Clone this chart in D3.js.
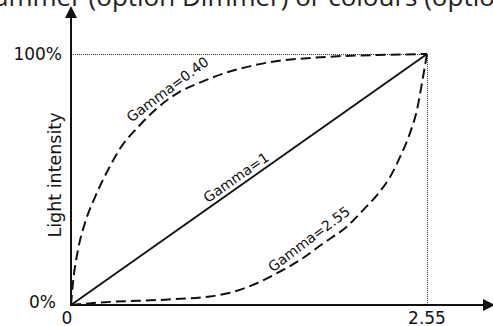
<!DOCTYPE html>
<html>
<head>
<meta charset="utf-8">
<script src="https://cdn.jsdelivr.net/npm/d3@7"></script>
<style>
  body { margin: 0; background: #fff; }
  svg { display: block; }
  text { font-family: "DejaVu Sans", Verdana, sans-serif; fill: #111; }
  .curve { fill: none; stroke: #111; stroke-width: 2; }
  .guide { fill: none; stroke: #333; stroke-width: 1; stroke-dasharray: 1 1; }
  .axis { stroke: #111; stroke-width: 2; }
</style>
</head>
<body>
<svg width="493" height="326"></svg>
<script>
var width = 493, height = 326;

// DMX value 0 .. 2.55 (x 100) against light intensity in %.
var xTicks = [0, 2.55];
var yTicks = [0, 100];
var yTickLabels = ["0%", "100%"];

var gammaLinear = [[0, 0], [2.55, 100]];
var gammaLow = [
  [0, 0], [0.014, 8.8], [0.05, 21.9], [0.1, 32.7], [0.172, 43.0],
  [0.265, 53.8], [0.358, 62.9], [0.48, 70.9], [0.602, 77.7],
  [0.766, 84.5], [0.931, 88.8], [1.125, 92.8], [1.318, 95.6],
  [1.533, 97.6], [1.712, 98.4], [1.948, 99.2], [2.192, 99.6], [2.55, 100]
];
var gammaHigh = [
  [0, 0], [0.215, 1.0], [0.695, 2.2], [0.996, 3.4], [1.139, 4.9],
  [1.304, 8.0], [1.476, 12.7], [1.64, 17.9], [1.805, 24.5],
  [1.977, 31.3], [2.092, 37.8], [2.192, 43.8], [2.285, 51.0],
  [2.357, 59.0], [2.428, 68.5], [2.478, 77.7], [2.514, 88.4],
  [2.536, 95.5], [2.55, 100]
];

var curveLabels = [
  { text: "Gamma=0.40", x: 0.692, y: 85.9, angle: -37 },
  { text: "Gamma=1", x: 1.182, y: 50.8, angle: -35 },
  { text: "Gamma=2.55", x: 1.705, y: 26.3, angle: -37 }
];

var x = d3.scaleLinear().domain([0, 2.55]).range([71, 427]);
var y = d3.scaleLinear().domain([0, 100]).range([305, 54]);

var svg = d3.select("svg");

// Title, cut off by the top edge of the picture.
svg.append("text")
  .attr("x", -6)
  .attr("y", 6)
  .style("font-family", "'Open Sans', sans-serif")
  .style("font-size", "26px")
  .style("fill", "#222")
  .text("ammer (option Dimmer) or colours (option");

// Dotted guides at 100% and at 2.55.
svg.append("path")
  .attr("class", "guide")
  .attr("d", "M" + x(0) + "," + (y(100) + 0.5) + "H" + x(2.55));
svg.append("path")
  .attr("class", "guide")
  .attr("d", "M" + (x(2.55) + 0.5) + "," + y(100) + "V" + y(0));

var line = d3.line()
  .x(function(d) { return x(d[0]); })
  .y(function(d) { return y(d[1]); })
  .curve(d3.curveMonotoneX);

svg.append("path")
  .attr("class", "curve")
  .attr("d", line(gammaLinear))
  .style("stroke-width", 1.9);

svg.append("path")
  .attr("class", "curve")
  .attr("d", line(gammaLow))
  .attr("stroke-dasharray", "10 5");

svg.append("path")
  .attr("class", "curve")
  .attr("d", line(gammaHigh))
  .attr("stroke-dasharray", "10 5");

// Axes with arrow heads.
svg.append("line")
  .attr("class", "axis")
  .attr("x1", x(0)).attr("y1", y(0) + 1)
  .attr("x2", x(0)).attr("y2", 16);
svg.append("path")
  .attr("d", "M" + x(0) + ",6L" + (x(0) - 6) + ",18L" + (x(0) + 6) + ",18Z")
  .style("fill", "#111");

svg.append("line")
  .attr("class", "axis")
  .attr("x1", x(0) - 1).attr("y1", y(0))
  .attr("x2", 485).attr("y2", y(0));
svg.append("path")
  .attr("d", "M495," + y(0) + "L483," + (y(0) - 6) + "L483," + (y(0) + 6) + "Z")
  .style("fill", "#111");

// Tick labels.
svg.selectAll(".xlabel")
  .data(xTicks)
  .enter().append("text")
    .attr("class", "xlabel")
    .attr("x", function(d) { return x(d) - (d === 0 ? 4 : 0); })
    .attr("y", 324)
    .attr("text-anchor", "middle")
    .style("font-size", "17px")
    .text(function(d) { return d === 0 ? "0" : d.toFixed(2); });

svg.selectAll(".ylabel")
  .data(yTicks)
  .enter().append("text")
    .attr("class", "ylabel")
    .attr("x", function(d) { return d === 0 ? 56 : 62; })
    .attr("y", function(d) { return y(d) + (d === 0 ? 3 : 6); })
    .attr("text-anchor", "end")
    .style("font-size", "17px")
    .text(function(d, i) { return yTickLabels[i]; });

svg.append("text")
  .attr("transform", "translate(61,175) rotate(-90)")
  .attr("text-anchor", "middle")
  .style("font-size", "17.5px")
  .text("Light intensity");

svg.selectAll(".gamma")
  .data(curveLabels)
  .enter().append("text")
    .attr("class", "gamma")
    .attr("transform", function(d) {
      return "translate(" + x(d.x) + "," + y(d.y) + ") rotate(" + d.angle + ")";
    })
    .attr("dy", "0.35em")
    .attr("text-anchor", "middle")
    .style("font-size", "14px")
    .text(function(d) { return d.text; });
</script>
</body>
</html>
